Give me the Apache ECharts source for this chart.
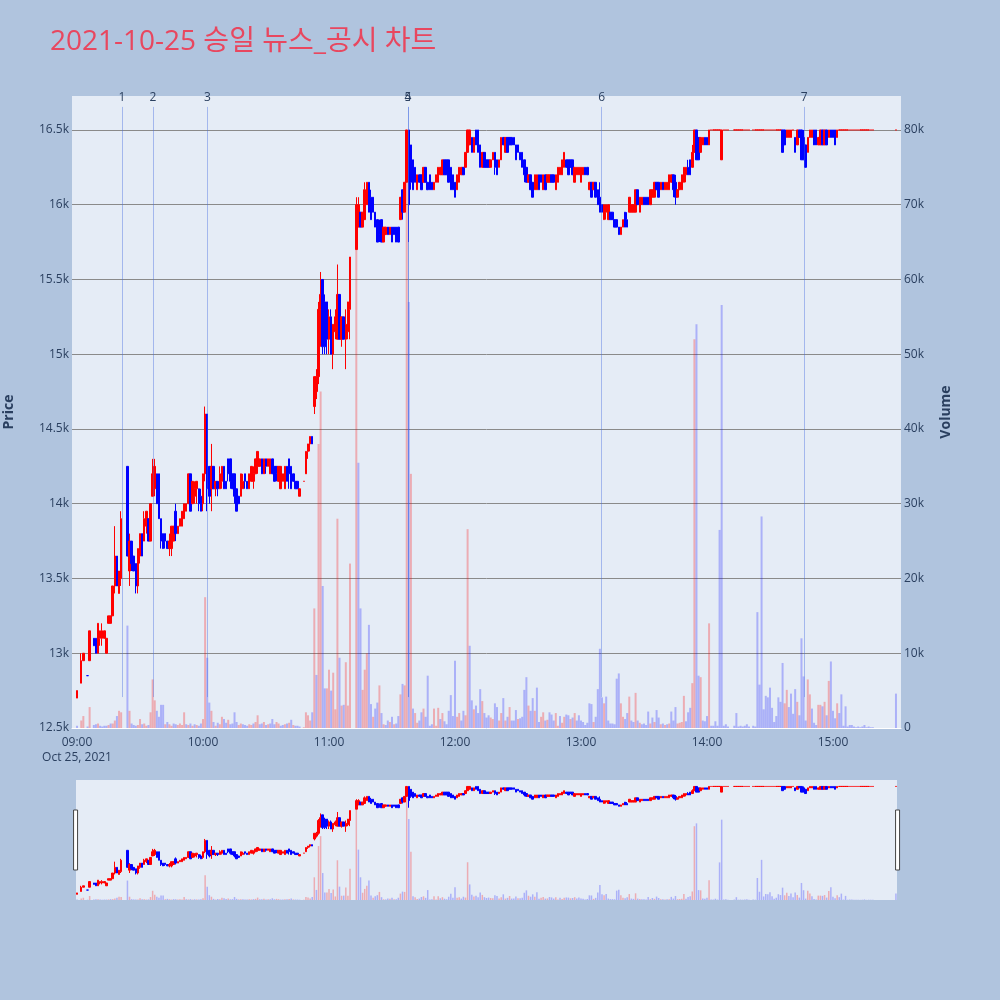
<!DOCTYPE html>
<html><head><meta charset="utf-8">
<script src="https://cdn.jsdelivr.net/npm/echarts@6/dist/echarts.min.js"></script>
<style>html,body{margin:0;padding:0;background:#b0c4de}#c{width:1000px;height:1000px}</style>
</head><body><div id="c"></div><script>
// minute index 0 = 09:00
const startHour = 9;
const opens = [
12700,null,12800,12950,null,12850,12950,null,13100,13100,
13000,13100,13100,13100,13000,13200,13200,13250,13450,13650,
13400,13500,null,null,14250,13550,13750,13650,13600,13450,
13650,13800,13750,13850,13900,13750,14050,14100,14200,14200,
13900,13800,13800,13750,13700,13700,13750,13950,13800,13850,
13850,13900,13950,14000,14200,14000,14050,14100,14100,14050,
14000,14200,14600,14250,14100,14250,14100,14150,14100,14150,
14250,14150,14300,14300,14200,14200,14100,14050,14050,14100,
14200,14150,14100,14150,14150,14200,14250,14250,14300,14200,
14300,14250,14200,14300,14250,14250,14150,14100,14150,14100,
14250,14300,14250,14200,14150,14150,14050,null,14150,14200,
14350,14400,14450,14650,14750,14850,15300,15500,15350,15350,
15100,15250,15000,15150,15100,15400,15100,15250,15100,15150,
15300,null,null,15700,15850,15950,15850,15900,16000,16150,
16050,16050,15950,15900,15850,15900,15750,15800,15850,15800,
15850,15850,15850,15850,15900,16100,15950,16150,16500,16400,
16300,16250,16100,16200,16200,16150,16250,16150,16200,16150,
16100,16150,16150,16200,16200,16300,16300,16300,16250,16200,
16150,16100,16150,16200,16250,16250,16350,16400,16450,16350,
16500,16500,16400,16250,16350,16300,16300,16250,16300,16350,
16300,16250,16300,16450,16350,16450,16450,16450,16450,16400,
16400,16350,16350,16300,16250,16150,16200,16150,16100,16100,
16200,16200,16100,16200,16150,16150,16200,16200,16100,16150,
16200,16200,16250,16300,16300,16300,16300,16150,16200,16200,
16150,16200,16250,16250,16100,16150,16100,16150,16100,16050,
16000,15900,15950,15900,15950,15950,15900,15900,15850,15800,
15850,15950,15900,15950,15950,15950,15950,16100,15950,16000,
16050,16050,16050,16000,16050,16050,16150,16150,16100,16150,
16100,16100,16100,16150,16200,16150,16050,16100,16100,16150,
16200,16250,16300,16250,16350,16500,16450,16350,16400,16450,
16450,16400,16500,16500,16500,16500,16500,16300,16500,16500,
16500,null,null,16500,16500,16500,16500,16500,16500,16500,
16500,null,16500,16500,16500,16500,16500,16500,16500,16500,
16500,16500,16500,16500,16500,16500,16500,16500,16450,16450,
16450,16500,16450,16400,16500,16500,16450,16400,16350,16450,
16450,16500,16500,16400,16400,16500,16400,16500,16450,16500,
16500,16500,16450,16500,16500,16500,16500,16500,16500,16500,
16500,16500,16500,16500,16500,16500,16500,16500,16500,16500,
null,null,null,null,null,null,null,null,null,null,
16500];
const closes = [
12750,null,12950,13000,null,12850,13150,null,13050,13000,
13200,13150,13150,13150,13100,13250,13250,13450,13650,13450,
13550,13900,null,null,13650,13750,13600,13550,13450,13700,
13800,13650,13900,13950,13750,14000,14200,14250,14000,13900,
13750,13700,13750,13700,13750,13850,13850,13800,13850,13900,
13950,14000,14000,14200,13950,14150,14100,14150,14000,13950,
14200,14600,14100,14050,14250,14100,14150,14100,14200,14250,
14100,14100,14200,14150,14100,14050,13950,14000,14200,14150,
14150,14100,14200,14250,14200,14300,14350,14300,14200,14300,
14250,14300,14300,14200,14150,14200,14250,14250,14200,14250,
14150,14200,14100,14150,14100,14100,14100,null,14150,14350,
14400,14450,14400,14850,14850,15300,15400,15050,15050,15100,
15250,15000,15200,15250,15400,15100,15250,15100,15200,15350,
15650,null,null,16000,16000,15850,15950,16100,16150,15950,
15900,15950,15850,15750,15800,15750,15850,15850,15800,15850,
15750,15800,15750,15750,16050,15950,16150,16500,16000,16150,
16100,16150,16200,16150,16100,16250,16150,16100,16100,16100,
16150,16200,16250,16250,16300,16200,16200,16150,16100,16100,
16050,16200,16250,16250,16200,16350,16500,16500,16350,16450,
16400,16350,16250,16350,16250,16250,16250,16300,16350,16250,
16200,16300,16450,16400,16450,16350,16400,16400,16400,16300,
16350,16300,16250,16200,16150,16200,16100,16050,16200,16200,
16100,16150,16200,16100,16200,16200,16150,16150,16200,16250,
16250,16300,16350,16250,16200,16250,16200,16250,16250,16250,
16250,16250,16200,16200,16150,16050,16150,16050,16000,15950,
15950,16000,16000,16000,15900,15900,15850,15850,15800,15850,
15900,15850,15850,16050,16000,16000,16100,16000,16050,16050,
16000,16000,16000,16100,16100,16150,16100,16050,16150,16100,
16150,16150,16200,16200,16100,16050,16100,16150,16200,16250,
16250,16200,16200,16350,16500,16300,16300,16450,16450,16400,
16400,16500,16500,16500,16500,16500,16500,16500,16500,16500,
16500,null,null,16500,16500,16500,16500,16500,16500,16500,
16500,null,16500,16500,16500,16500,16500,16500,16500,16500,
16500,16500,16500,16500,16500,16500,16350,16400,16500,16500,
16500,16500,16350,16500,16450,16300,16300,16250,16450,16500,
16500,16400,16400,16450,16500,16400,16500,16400,16500,16450,
16450,16400,16500,16500,16500,16500,16500,16500,16500,16500,
16500,16500,16500,16500,16500,16500,16500,16500,16500,16500,
null,null,null,null,null,null,null,null,null,null,
16500];
const lows = [
12700,null,12800,12950,null,12850,12950,null,13050,13000,
13000,13050,13050,13100,13000,13200,13200,13250,13400,13450,
13400,13450,null,null,13650,13450,13550,13550,13400,13400,
13600,13650,13750,13800,13750,13750,14050,14050,14000,13900,
13700,13700,13700,13700,13650,13650,13750,13750,13800,13850,
13850,13900,13950,14000,13950,14000,14000,14000,13950,13950,
13950,14150,13950,14000,13950,14100,14050,14050,14100,14100,
14100,14100,14150,14100,14100,14000,13950,14000,14050,14100,
14100,14100,14100,14150,14100,14200,14200,14250,14200,14200,
14200,14250,14200,14200,14150,14150,14150,14100,14150,14100,
14150,14100,14100,14150,14100,14100,14050,null,14150,14200,
14300,14350,14400,14600,14700,14800,15050,15000,15000,15000,
15000,15000,14900,15100,15100,15100,15050,15100,14900,15100,
15100,null,null,15700,15850,15850,15850,15900,16000,15950,
15900,15950,15850,15750,15750,15750,15750,15800,15800,15800,
15750,15800,15750,15750,15900,15900,15950,16150,15750,16100,
16100,16150,16100,16150,16100,16150,16150,16100,16100,16100,
16100,16150,16150,16200,16200,16200,16200,16150,16100,16100,
16050,16100,16150,16200,16200,16250,16350,16400,16350,16350,
16400,16350,16250,16250,16250,16250,16250,16250,16300,16200,
16200,16250,16300,16400,16350,16350,16400,16400,16400,16300,
16350,16300,16250,16150,16150,16150,16100,16050,16100,16100,
16100,16150,16100,16100,16150,16150,16150,16150,16100,16150,
16200,16200,16250,16250,16200,16250,16200,16150,16200,16200,
16150,16200,16200,16200,16100,16050,16100,16050,16000,15950,
15950,15900,15900,15900,15900,15900,15850,15850,15800,15800,
15850,15850,15850,15950,15950,15950,15950,16000,15950,16000,
16000,16000,16000,16000,16050,16050,16100,16050,16100,16100,
16100,16100,16100,16150,16050,16000,16050,16100,16100,16150,
16150,16200,16200,16250,16350,16300,16300,16350,16400,16400,
16400,16400,16500,16500,16500,16500,16500,16300,16500,16500,
16500,null,null,16500,16500,16500,16500,16500,16500,16500,
16500,null,16500,16500,16500,16500,16500,16500,16500,16500,
16500,16500,16500,16500,16500,16500,16350,16400,16450,16450,
16450,16500,16350,16400,16450,16300,16300,16250,16350,16450,
16450,16400,16400,16400,16400,16400,16400,16400,16450,16450,
16450,16400,16450,16500,16500,16500,16500,16500,16500,16500,
16500,16500,16500,16500,16500,16500,16500,16500,16500,16500,
null,null,null,null,null,null,null,null,null,null,
16500];
const highs = [
12750,null,13000,13000,null,12850,13150,null,13100,13100,
13200,13150,13200,13150,13100,13250,13250,13450,13850,13650,
13550,13950,null,null,14250,13800,13750,13650,13600,13700,
13800,13800,13950,13950,13900,14000,14300,14300,14200,14200,
13900,13800,13800,13750,13800,13850,13850,14000,13850,13900,
13950,14000,14000,14200,14200,14150,14150,14150,14100,14100,
14200,14650,14600,14250,14400,14250,14150,14150,14250,14250,
14250,14150,14300,14300,14200,14200,14100,14050,14200,14200,
14200,14150,14200,14250,14250,14300,14350,14300,14300,14300,
14300,14300,14300,14300,14250,14250,14250,14250,14200,14250,
14250,14300,14250,14200,14150,14150,14100,null,14150,14350,
14400,14450,14450,14850,14900,15350,15550,15500,15400,15350,
15300,15300,15200,15300,15600,15400,15250,15250,15300,15350,
15650,null,null,16050,16050,15950,15950,16150,16150,16150,
16100,16050,15950,15900,15900,15900,15850,15850,15850,15850,
15850,15850,15850,15850,16050,16100,16150,16500,16500,16400,
16300,16250,16200,16200,16200,16250,16250,16150,16200,16150,
16150,16200,16250,16250,16300,16300,16300,16300,16250,16200,
16150,16200,16250,16250,16250,16350,16500,16500,16450,16450,
16500,16500,16400,16350,16350,16300,16300,16300,16350,16350,
16300,16300,16450,16450,16450,16450,16450,16450,16450,16400,
16400,16350,16350,16300,16250,16200,16200,16150,16200,16200,
16200,16200,16200,16200,16200,16200,16200,16200,16200,16250,
16250,16300,16350,16300,16300,16300,16300,16250,16250,16250,
16250,16250,16250,16250,16150,16150,16150,16150,16100,16150,
16000,16000,16000,16000,15950,15950,15900,15900,15850,15850,
15900,15950,15950,16050,16000,16000,16100,16100,16050,16050,
16050,16050,16050,16100,16100,16150,16150,16150,16150,16150,
16150,16150,16200,16200,16200,16200,16100,16150,16200,16250,
16250,16300,16300,16400,16500,16500,16450,16450,16450,16450,
16450,16500,16500,16500,16500,16500,16500,16500,16500,16500,
16500,null,null,16500,16500,16500,16500,16500,16500,16500,
16500,null,16500,16500,16500,16500,16500,16500,16500,16500,
16500,16500,16500,16500,16500,16500,16500,16500,16500,16500,
16500,16500,16450,16500,16500,16500,16500,16400,16450,16500,
16500,16500,16500,16450,16500,16500,16500,16500,16500,16500,
16500,16500,16500,16500,16500,16500,16500,16500,16500,16500,
16500,16500,16500,16500,16500,16500,16500,16500,16500,16500,
null,null,null,null,null,null,null,null,null,null,
16500];
const volumes = [
300,null,1000,1600,null,200,2800,null,400,500,
600,300,200,300,300,400,600,600,1000,1600,
2300,2100,null,null,13700,2300,600,400,300,400,
1200,500,600,300,400,2100,6500,3700,2300,1500,
3100,3100,500,800,500,300,600,500,400,600,
400,2100,500,400,600,300,500,400,300,600,
1200,17500,9400,3400,2300,800,300,700,500,1500,
1200,700,1100,500,600,2100,800,400,600,500,
400,300,500,400,600,800,1700,500,600,800,
400,500,600,1200,500,800,600,300,400,500,
600,700,1100,400,300,300,200,null,100,2100,
1700,1000,2100,16000,7100,38000,45000,19000,5300,5300,
7800,5000,7400,2500,28000,9400,3000,3100,8800,3000,
22000,null,null,64000,35500,16000,5100,7800,10000,13800,
3200,1500,2600,3400,5700,2000,500,400,1000,800,
1500,500,600,1600,4500,5900,5700,80000,57000,34000,
2600,2000,700,1000,2100,2600,1500,7000,300,500,
2600,300,2700,1200,2000,900,500,2300,4400,1600,
9000,1500,2000,1000,2300,1700,26600,11000,3700,2500,
3000,2000,5200,3600,2000,1400,1700,1400,1200,3300,
2800,1000,2000,4000,1000,1500,2800,1000,1000,2400,
1200,1300,1500,5100,6800,3000,2300,4000,2300,5400,
800,1500,2100,1000,1100,2100,1800,1000,2000,300,
1600,700,1500,1800,1700,1200,1400,2000,1000,1700,
1000,800,400,700,3300,3200,800,1500,5200,10600,
4100,3300,4200,1000,600,600,500,6600,7300,3300,
1500,1200,2000,4200,1000,800,4700,1000,700,500,
600,400,2200,600,1400,800,2400,1400,500,600,
400,500,600,2200,1000,2800,600,700,800,4300,
900,2100,2700,6000,52000,54000,7000,6800,1000,900,
1600,14000,300,300,900,300,26500,56600,300,500,
200,null,null,300,2000,200,300,200,300,500,
200,null,300,200,15500,5800,28300,2500,4300,4100,
5400,2700,800,1600,4100,3500,8700,3300,5100,2800,
4600,1900,5200,3500,1700,12000,6900,1000,6500,4500,
2600,700,400,3100,3100,2900,3500,1700,6300,8900,
2300,1300,3300,2000,4500,300,2900,200,400,400,
200,100,200,100,200,400,100,200,100,100,
null,null,null,null,null,null,null,null,null,null,
4600];
const newsLabels = ['1','2','3','4','5','6','7'];
const newsTimes = ['09:21:26','09:36:05','10:02:03','11:37:36','11:37:36','13:09:50','14:46:20'];
const priceTicks = [12500,13000,13500,14000,14500,15000,15500,16000,16500];
const volumeTicks = [0,10000,20000,30000,40000,50000,60000,70000,80000];
const timeTicks = [0,60,120,180,240,300,360];
const dateLabel = 'Oct 25, 2021';
const titleText = '2021-10-25 승일 뉴스_공시 차트';

const FONT = "'Open Sans', 'Noto Sans CJK KR', sans-serif";
const TXT = '#2a3f5f';
const UP = '#ff0000', DOWN = '#0000ff';
const UPV = 'rgba(255,0,0,0.27)', DOWNV = 'rgba(0,0,255,0.25)';

function toMin(s){const p=s.split(':').map(Number);return (p[0]-startHour)*60+p[1]+(p[2]||0)/60;}
function fmtTime(m){const h=startHour+Math.floor(m/60), mm=Math.round(m%60);return String(h).padStart(2,'0')+':'+String(mm).padStart(2,'0');}

const candleData=[], volData=[];
let prevClose=null;
for(let i=0;i<opens.length;i++){
  if(opens[i]==null) continue;
  candleData.push([i, opens[i], closes[i], lows[i], highs[i]]);
  const up = prevClose!=null && closes[i]>prevClose;
  volData.push({value:[i, volumes[i]], itemStyle:{color: up?UPV:DOWNV}});
  prevClose=closes[i];
}

const chart = echarts.init(document.getElementById('c'), null, {renderer:'canvas'});
const candleStyle = {color:UP, color0:DOWN, borderColor:UP, borderColor0:DOWN, borderWidth:1};
chart.setOption({
  animation:false,
  backgroundColor:'#b0c4de',
  textStyle:{fontFamily:FONT},
  title:{text:titleText, left:45, top:23, textStyle:{color:'#e8475f', fontSize:28, fontWeight:'normal', fontFamily:FONT}},
  grid:[
    {left:72, top:96, width:829, height:632, show:true, backgroundColor:'#e5ecf6', borderWidth:0, containLabel:false, outerBoundsMode:'none'},
    {left:76, top:780, width:821, height:120, show:true, backgroundColor:'#e5ecf6', borderWidth:0, containLabel:false, outerBoundsMode:'none'}
  ],
  xAxis:[
    {type:'value', gridIndex:0, min:-2.4, max:392.4,
     axisLine:{show:true, lineStyle:{color:'#ffffff', width:1}}, axisTick:{show:false}, splitLine:{show:false},
     axisLabel:{customValues:timeTicks, color:TXT, fontSize:12, margin:7, lineHeight:15,
       formatter:v=> v===0 ? fmtTime(v)+'\n'+dateLabel : fmtTime(v)}},
    {type:'value', gridIndex:1, min:-0.5, max:390.5, show:false}
  ],
  yAxis:[
    {type:'value', gridIndex:0, position:'left', min:12500, max:16727, interval:500,
     axisLine:{show:false}, axisTick:{show:false},
     splitLine:{show:true, showMaxLine:false, showMinLine:false, lineStyle:{color:'#8a8a8a', width:1}},
     axisLabel:{customValues:priceTicks, color:TXT, fontSize:12, margin:3, formatter:v=>(v/1000)+'k'},
     name:'Price', nameLocation:'middle', nameGap:56, nameRotate:90,
     nameTextStyle:{color:TXT, fontSize:14, fontWeight:'bold', fontFamily:FONT}},
    {type:'value', gridIndex:0, position:'right', min:0, max:84548, interval:10000,
     axisLine:{show:false}, axisTick:{show:false}, splitLine:{show:false},
     axisLabel:{customValues:volumeTicks, color:TXT, fontSize:12, margin:3, formatter:v=> v===0?'0':(v/1000)+'k'},
     name:'Volume', nameLocation:'middle', nameGap:38, nameRotate:90,
     nameTextStyle:{color:TXT, fontSize:14, fontWeight:'bold', fontFamily:FONT}},
    {type:'value', gridIndex:1, min:12500, max:16727, show:false},
    {type:'value', gridIndex:1, min:0, max:84548, show:false}
  ],
  dataZoom:[{type:'slider', xAxisIndex:[0], filterMode:'none', start:0, end:100, zoomLock:true,
    left:74, right:102, top:780, height:120, showDataShadow:false, showDetail:false, brushSelect:false,
    backgroundColor:'rgba(0,0,0,0)', fillerColor:'rgba(0,0,0,0)', borderColor:'rgba(0,0,0,0)',
    handleIcon:'path://M0,0H4V60H0Z', handleSize:'50%', moveHandleSize:0,
    handleStyle:{color:'#ffffff', borderColor:'#444444', borderWidth:1},
    emphasis:{handleStyle:{color:'#ffffff', borderColor:'#444444', borderWidth:1}}}],
  series:[
    {type:'bar', name:'vol', xAxisIndex:0, yAxisIndex:1, data:volData, barWidth:2, z:1, silent:true, large:false},
    {type:'candlestick', name:'price', xAxisIndex:0, yAxisIndex:0, data:candleData, barWidth:2, z:3, silent:true, large:false,
     dimensions:['t','open','close','lowest','highest'], encode:{x:'t', y:['open','close','lowest','highest']},
     itemStyle:candleStyle,
     markLine:{silent:true, symbol:['none','none'], z:4,
       lineStyle:{color:'rgba(65,105,225,0.4)', width:1, type:'solid'},
       label:{show:true, position:'start', distance:3, formatter:'{b}', color:TXT, fontSize:12, fontFamily:FONT},
       data: newsTimes.map((t,i)=>[{name:newsLabels[i], xAxis:toMin(t), yAxis:16654},{xAxis:toMin(t), yAxis:12707}])}},
    {type:'bar', name:'vol-mini', xAxisIndex:1, yAxisIndex:3, data:volData, barWidth:1.5, z:1, silent:true, large:false},
    {type:'candlestick', name:'price-mini', xAxisIndex:1, yAxisIndex:2, data:candleData, barWidth:2, z:3, silent:true, large:false,
     dimensions:['t','open','close','lowest','highest'], encode:{x:'t', y:['open','close','lowest','highest']},
     itemStyle:candleStyle}
  ]
});
</script></body></html>
